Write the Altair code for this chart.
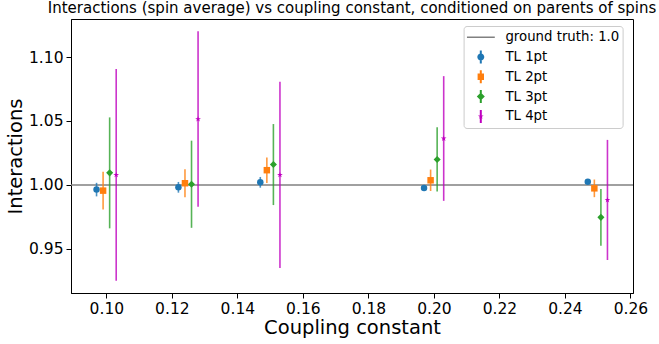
import altair as alt
import pandas as pd

# ---------------- data ----------------
couplings = [0.10, 0.125, 0.15, 0.20, 0.25]
series_names = ["TL 1pt", "TL 2pt", "TL 3pt", "TL 4pt"]
dodge = [-0.003, -0.001, 0.001, 0.003]

tl1_mean = [0.9963, 0.9981, 1.0020, 0.9976, 1.0024]
tl1_err = [0.0053, 0.0042, 0.0042, 0.0015, 0.0015]
tl2_mean = [0.9955, 1.0013, 1.0115, 1.0036, 0.9973]
tl2_err = [0.0148, 0.0110, 0.0100, 0.0084, 0.0069]
tl3_mean = [1.0094, 1.0005, 1.0159, 1.0199, 0.9746]
tl3_err = [0.0434, 0.0341, 0.0317, 0.0251, 0.0222]
tl4_mean = [1.0078, 1.0515, 1.0078, 1.0363, 0.9882]
tl4_err = [0.0828, 0.0687, 0.0729, 0.0488, 0.0470]

ground_truth = 1.0
x_ticks = [0.10, 0.12, 0.14, 0.16, 0.18, 0.20, 0.22, 0.24, 0.26]
y_ticks = [0.95, 1.00, 1.05, 1.10]

# ---------------- styles ----------------
colors = ["#1f77b4", "#ff7f0e", "#2ca02c", "#bf00bf"]
STAR_PTS = [(0, -1), (0.2245, -0.309), (0.9511, -0.309), (0.3633, 0.118), (0.5878, 0.809),
            (0, 0.382), (-0.5878, 0.809), (-0.3633, 0.118), (-0.9511, -0.309), (-0.2245, -0.309)]


def star_path(k=1.0):
    return "M" + "L".join(f"{x*k:.4f},{y*k:.4f}" for x, y in STAR_PTS) + "Z"


shapes = ["circle", "square", "diamond", star_path()]
sizes = [42, 42, 50, 36]

FONT = "DejaVu Sans"
xscale = alt.Scale(domain=[0.0892, 0.2608], nice=False, zero=False)
yscale = alt.Scale(domain=[0.9154, 1.1298], nice=False, zero=False)
xaxis = alt.Axis(values=x_ticks, format=".2f", title="Coupling constant",
                 titleY=40.7, titleBaseline="alphabetic")
yaxis = alt.Axis(values=y_ticks, format=".2f", title="Interactions",
                 titleX=-49.6, titleBaseline="alphabetic")

means = [tl1_mean, tl2_mean, tl3_mean, tl4_mean]
errs = [tl1_err, tl2_err, tl3_err, tl4_err]

layers = []
gt_df = pd.DataFrame({"value": [ground_truth]})
layers.append(
    alt.Chart(gt_df).mark_rule(color="gray", strokeWidth=1.5).encode(
        y=alt.Y("value:Q", scale=yscale, axis=yaxis)
    )
)

for i, name in enumerate(series_names):
    df = pd.DataFrame({
        "x": [c + dodge[i] for c in couplings],
        "mean": means[i],
        "lo": [m - e for m, e in zip(means[i], errs[i])],
        "hi": [m + e for m, e in zip(means[i], errs[i])],
    })
    base = alt.Chart(df)
    bars = base.mark_rule(color=colors[i], strokeWidth=1.6, opacity=0.8).encode(
        x=alt.X("x:Q", scale=xscale, axis=xaxis),
        y=alt.Y("lo:Q", scale=yscale, axis=yaxis),
        y2="hi:Q",
    )
    pts = base.mark_point(shape=shapes[i], size=sizes[i], filled=True,
                          color=colors[i], opacity=1).encode(
        x=alt.X("x:Q", scale=xscale, axis=xaxis),
        y=alt.Y("mean:Q", scale=yscale, axis=yaxis),
    )
    layers += [bars, pts]

# ---------------- legend (symbols drawn by the legend itself) ----------------
# legend symbol size 784 -> path units scaled by 14 px
U = 14.0


def rect(hw, hh):
    return f"M{-hw:.4f},{-hh:.4f}L{hw:.4f},{-hh:.4f}L{hw:.4f},{hh:.4f}L{-hw:.4f},{hh:.4f}Z"


VBAR = rect(1.0 / U, 6.5 / U)
r = 3.5 / U
legend_labels = ["ground truth: 1.0"] + series_names
legend_shapes = [
    rect(14 / U, 0.75 / U),
    f"M{r:.4f},0A{r:.4f},{r:.4f},0,1,1,{-r:.4f},0A{r:.4f},{r:.4f},0,1,1,{r:.4f},0Z" + VBAR,
    rect(3.2 / U, 3.2 / U) + VBAR,
    f"M0,{-4/U:.4f}L{4/U:.4f},0L0,{4/U:.4f}L{-4/U:.4f},0Z" + VBAR,
    star_path(3.0 / U) + VBAR,
]
legend_colors = ["gray"] + colors

leg = alt.Legend(
    title=None, orient="none", legendX=392.6, legendY=7,
    labelFont=FONT, labelFontSize=13.3, labelColor="black",
    symbolSize=784, symbolStrokeWidth=0, symbolOpacity=1, clipHeight=16,
    rowPadding=3.8, columnPadding=0, labelOffset=10.6, padding=3.2,
    strokeColor="#cccccc", cornerRadius=3, fillColor="rgba(255,255,255,0.8)",
)
legend_df = pd.DataFrame({"series": legend_labels})
layers.append(
    alt.Chart(legend_df).mark_point(filled=True, opacity=0).encode(
        color=alt.Color("series:N", scale=alt.Scale(domain=legend_labels, range=legend_colors), legend=leg),
        shape=alt.Shape("series:N", scale=alt.Scale(domain=legend_labels, range=legend_shapes), legend=leg),
    )
)

chart = alt.layer(*layers).properties(
    width=562, height=274,
    padding={"left": 71, "top": 19, "right": 26, "bottom": 51},
    autosize="none",
    title=alt.TitleParams(
        "Interactions (spin average) vs coupling constant, conditioned on parents of spins",
        font=FONT, fontSize=15, fontWeight="normal", color="black",
        anchor="middle", baseline="alphabetic", offset=5.7, dy=15,
    ),
).configure_axis(
    grid=False, domainColor="black", tickColor="black", labelColor="black",
    titleColor="black", labelFont=FONT, titleFont=FONT, labelFontSize=15.5,
    titleFontSize=19.5, titleFontWeight="normal", tickSize=5, labelPadding=3,
    domainWidth=1, tickWidth=1,
).configure_view(stroke="black", strokeWidth=1)

chart.save("out.html", embed_options={"renderer": "svg", "actions": False})
